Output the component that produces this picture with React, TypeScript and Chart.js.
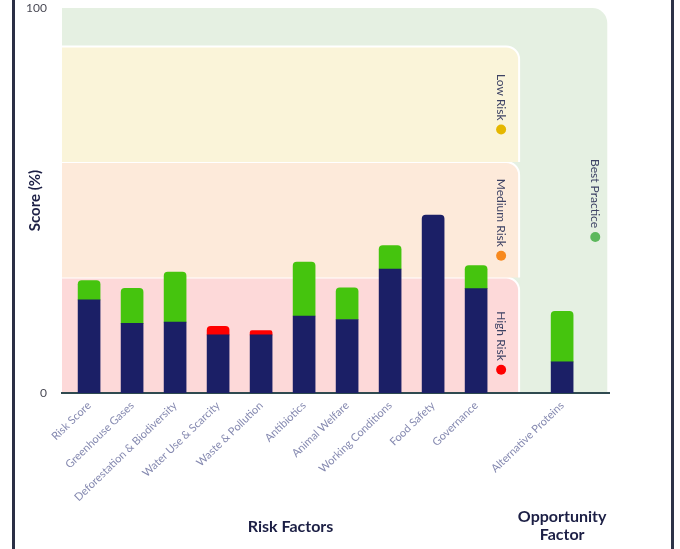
import { useEffect, useRef } from 'react';
import { Chart, registerables } from 'chart.js';

Chart.register(...registerables);

// ---- data ----
const categories = [
  'Risk Score',
  'Greenhouse Gases',
  'Deforestation & Biodiversity',
  'Water Use & Scarcity',
  'Waste & Pollution',
  'Antibiotics',
  'Animal Welfare',
  'Working Conditions',
  'Food Safety',
  'Governance',
  '',
  'Alternative Proteins',
];
const baseScores = [24.2, 18.1, 18.4, 15.1, 15.1, 20.0, 19.1, 32.2, 46.2, 27.1, null, 8.1];
const improvement = [5.0, 9.1, 13.0, null, null, 14.0, 8.2, 6.1, null, 6.0, null, 13.1];
const decline = [null, null, null, 2.2, 1.1, null, null, null, null, null, null, null];
const yTickValues = [0, 100];

const bandNames = ['Best Practice', 'High Risk', 'Medium Risk', 'Low Risk'];
const bandFrom = [0, 0, 30, 60];
const bandTo = [100, 30, 60, 90];
const bandLabelAt = [50, 13, 45, 75];
const bandFill = ['#e5f0e2', '#fdd9d9', '#fdeada', '#faf4d9'];
const bandDot = ['#5cb85c', '#ff0000', '#f7891e', '#e5b700'];

const xMin = -0.63;
const xMax = 12.09;
const riskEnd = 10;
const bestEnd = 12.05;
const opportunityIndex = 11;

const NAVY = '#1b1f66';
const GREEN = '#45c40e';
const RED = '#ff0000';
const FONT = 'Lato, "Noto Sans", sans-serif';

function topRightPath(ctx: CanvasRenderingContext2D, l: number, t: number, r: number, b: number, rad: number) {
  ctx.beginPath();
  ctx.moveTo(l, b);
  ctx.lineTo(l, t);
  ctx.lineTo(r - rad, t);
  ctx.arcTo(r, t, r, t + rad, rad);
  ctx.lineTo(r, b);
  ctx.closePath();
}

const bandsPlugin = {
  id: 'bands',
  beforeDraw(chart: any) {
    const { ctx, scales } = chart;
    const x = scales.x;
    const y = scales.y;
    const left = x.getPixelForValue(xMin);
    ctx.save();
    bandNames.forEach((name, i) => {
      const isBest = i === 0;
      const right = x.getPixelForValue(isBest ? bestEnd : riskEnd);
      const top = y.getPixelForValue(bandTo[i]);
      const bottom = y.getPixelForValue(bandFrom[i]);
      const rad = isBest ? 15 : 13;
      topRightPath(ctx, left, top, right, bottom, rad);
      ctx.fillStyle = bandFill[i];
      ctx.fill();
      if (!isBest) {
        ctx.beginPath();
        ctx.moveTo(left, top);
        ctx.lineTo(right - rad, top);
        ctx.arcTo(right, top, right, top + rad, rad);
        ctx.lineTo(right, bottom);
        ctx.strokeStyle = '#ffffff';
        ctx.lineWidth = 2;
        ctx.stroke();
      }
    });
    // band labels
    ctx.font = `12px ${FONT}`;
    bandNames.forEach((name, i) => {
      const isBest = i === 0;
      const cx = x.getPixelForValue(isBest ? bestEnd : riskEnd) - (isBest ? 12 : 18);
      const cy = y.getPixelForValue(bandLabelAt[i]);
      const tw = ctx.measureText(name).width;
      const r = 5;
      const gap = 4;
      const total = tw + gap + 2 * r;
      const startY = cy - total / 2;
      ctx.save();
      ctx.translate(cx, startY);
      ctx.rotate(Math.PI / 2);
      ctx.fillStyle = '#3d4264';
      ctx.textAlign = 'left';
      ctx.textBaseline = 'middle';
      ctx.fillText(name, 0, 0);
      ctx.restore();
      ctx.beginPath();
      ctx.arc(cx, startY + tw + gap + r, r, 0, Math.PI * 2);
      ctx.fillStyle = bandDot[i];
      ctx.fill();
    });
    ctx.restore();
  },
  afterDraw(chart: any) {
    const { ctx, scales } = chart;
    const x = scales.x;
    ctx.save();
    ctx.font = `bold 16px ${FONT}`;
    ctx.fillStyle = '#1c1f45';
    ctx.textAlign = 'center';
    ctx.textBaseline = 'middle';
    const riskMid = (x.getPixelForValue(xMin) + x.getPixelForValue(riskEnd)) / 2;
    ctx.fillText('Risk Factors', riskMid, 527);
    const oppX = x.getPixelForValue(opportunityIndex);
    ctx.fillText('Opportunity', oppX, 517);
    ctx.fillText('Factor', oppX, 535);
    ctx.restore();
  },
};

export default function App() {
  const ref = useRef<HTMLCanvasElement>(null);

  useEffect(() => {
    if (!ref.current) return;
    const toPoints = (arr: (number | null)[]) => arr.map((v, i) => ({ x: i, y: v }));
    const chart = new Chart(ref.current, {
      type: 'bar',
      data: {
        datasets: [
          {
            label: 'Score',
            data: toPoints(baseScores) as any,
            backgroundColor: NAVY,
            barThickness: 22,
            borderRadius: (c: any) => (improvement[c.dataIndex] || decline[c.dataIndex] ? 0 : 4),
            borderSkipped: 'start',
          },
          {
            label: 'Improvement',
            data: toPoints(improvement) as any,
            backgroundColor: GREEN,
            barThickness: 22,
            borderRadius: 4,
            borderSkipped: 'start',
          },
          {
            label: 'Decline',
            data: toPoints(decline) as any,
            backgroundColor: RED,
            barThickness: 22,
            borderRadius: 4,
            borderSkipped: 'start',
          },
        ],
      },
      options: {
        animation: false,
        responsive: false,
        layout: { padding: { top: 8, right: 71, left: 0, bottom: 0 } },
        plugins: {
          legend: { display: false },
          tooltip: { enabled: false },
        },
        scales: {
          x: {
            type: 'linear',
            stacked: true,
            offset: false,
            min: xMin,
            max: xMax,
            bounds: 'data',
            grid: { display: false, drawTicks: false, offset: false },
            border: { display: true, color: '#2f4a50', width: 2 },
            afterBuildTicks: (s: any) => {
              s.ticks = categories.map((_, i) => ({ value: i }));
            },
            afterFit: (s: any) => {
              s.height = 156;
              s.paddingLeft = 0;
              s.paddingRight = 0;
            },
            ticks: {
              autoSkip: false,
              maxRotation: 44,
              minRotation: 44,
              padding: 6,
              color: '#8589b0',
              font: { family: FONT, size: 11 },
              callback: (v: any) => categories[Math.round(Number(v))] ?? '',
            },
          },
          y: {
            stacked: true,
            min: 0,
            max: 100,
            grid: { display: false, drawTicks: false },
            border: { display: false },
            afterBuildTicks: (s: any) => {
              s.ticks = yTickValues.map((v) => ({ value: v }));
            },
            afterFit: (s: any) => {
              s.width = 62;
              s.paddingTop = 0;
              s.paddingBottom = 0;
            },
            ticks: {
              padding: 15,
              color: '#4a4a55',
              font: { family: FONT, size: 12 },
            },
            title: {
              display: true,
              text: 'Score (%)',
              color: '#1c1f45',
              font: { family: FONT, size: 15, weight: 'bold' },
              padding: { top: 26, bottom: 0 },
            },
          },
        },
      },
      plugins: [bandsPlugin],
    });
    return () => chart.destroy();
  }, []);

  return (
    <div style={{ position: 'fixed', left: 0, top: 0, width: 680, height: 549, background: '#fff' }}>
      <canvas ref={ref} width={680} height={549} style={{ position: 'absolute', left: 0, top: 0 }} />
      <div style={{ position: 'absolute', left: 12, top: 0, width: 3, height: 549, background: '#2a2f45' }} />
      <div style={{ position: 'absolute', left: 671, top: 0, width: 3, height: 549, background: '#2d3348' }} />
    </div>
  );
}
